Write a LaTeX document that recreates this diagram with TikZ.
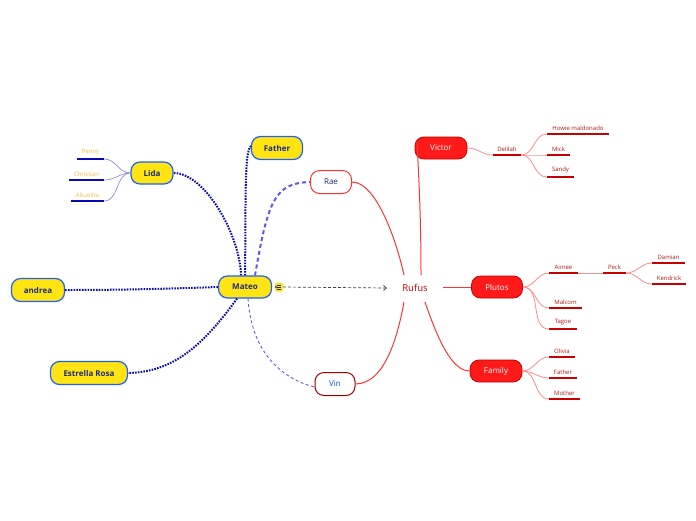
\documentclass[tikz,border=0pt]{standalone}
\usepackage{fontspec}
\setmainfont{Open Sans}
\usetikzlibrary{arrows.meta}
\definecolor{redfill}{HTML}{FF1A1A}
\definecolor{redline}{HTML}{C80000}
\definecolor{redlink}{HTML}{FF3333}
\definecolor{redleaf}{HTML}{FF8C8C}
\definecolor{redtext}{HTML}{B01818}
\definecolor{yelfill}{HTML}{FFE414}
\definecolor{bluebd}{HTML}{1F5FFF}
\definecolor{navy}{HTML}{1E2A78}
\definecolor{dotblue}{HTML}{0A0AB4}
\definecolor{dashblue}{HTML}{5A5AF0}
\definecolor{lightblue}{HTML}{8C8CE6}
\definecolor{orangetext}{HTML}{F2B94A}
\tikzset{
  x=1pt,y=-1pt,
  redbox/.style={draw=redline,fill=redfill,line width=0.8pt,rounded corners=9pt,minimum height=22pt,text=white,font=\fontsize{8}{9}\selectfont,inner xsep=0pt},
  yelbox/.style={draw=bluebd,fill=yelfill,line width=1.2pt,rounded corners=9pt,minimum height=22pt,text=navy,font=\fontsize{8}{9}\selectfont\bfseries,inner xsep=0pt},
  whitebox/.style={fill=white,line width=1pt,rounded corners=9pt,minimum height=23pt,font=\fontsize{8}{9}\selectfont,inner xsep=0pt},
  rleaf/.style={text=redtext,font=\fontsize{6}{7}\selectfont,inner xsep=0pt,inner ysep=3.5pt,anchor=south},
  bleaf/.style={text=orangetext,font=\fontsize{6}{7}\selectfont,inner xsep=0pt,inner ysep=3.5pt,anchor=south},
  rul/.style={draw=redline,line width=1.3pt},
  bul/.style={draw=dotblue,line width=1.3pt},
  rlink/.style={draw=redlink,line width=1pt},
  rleafl/.style={draw=redleaf,line width=0.8pt},
  bleafl/.style={draw=lightblue,line width=0.7pt},
  dotl/.style={draw=dotblue,line width=2pt,dash pattern=on 1.6pt off 1.2pt},
  dashl/.style={draw=dashblue,line width=2pt,dash pattern=on 4pt off 3pt},
  thindash/.style={draw=dashblue,line width=0.9pt,dash pattern=on 3pt off 2.5pt},
}
\begin{document}
\begin{tikzpicture}
\useasboundingbox (0,0) rectangle (696,520);
% main nodes
\node[redbox,minimum width=52pt] (victor) at (441,148) {Victor};
\node[redbox,minimum width=51pt] (plutos) at (497,287) {Plutos};
\node[redbox,minimum width=52pt] (family) at (496,371) {Family};
\node[text=redline,font=\fontsize{9.5}{10}\selectfont,inner sep=1pt] (rufus) at (415,288) {Rufus};
\coordinate (rA) at (404,275);
\coordinate (rB) at (421,275);
\coordinate (rC) at (443,287);
\coordinate (rD) at (404,302);
\coordinate (rE) at (425,302);
\node[yelbox,minimum width=53pt] (mateo) at (245,287) {Mateo};
\node[yelbox,minimum width=51pt,minimum height=23pt] (father) at (277,148) {Father};
\node[yelbox,minimum width=42pt,minimum height=22pt] (lida) at (152,173) {Lida};
\node[yelbox,minimum width=53pt,minimum height=23pt] (andrea) at (38,290) {andrea};
\node[yelbox,minimum width=77pt,minimum height=23pt] (estrella) at (89,373) {Estrella Rosa};
\node[whitebox,draw=redlink,text=navy,minimum width=41pt] (rae) at (331,182) {Rae};
\node[whitebox,draw=redline!80!black,text=blue!60!cyan!80!black,minimum width=40pt] (vin) at (335,384) {Vin};
% note icon
\node[fill=yelfill,rounded corners=1.5pt,minimum width=8pt,minimum height=9pt,inner sep=0pt] (note) at (279,287) {};
\draw[navy,line width=0.6pt] ([xshift=-2pt,yshift=-2pt]note.center) -- ([xshift=2pt,yshift=-2pt]note.center)
  ([xshift=-2pt]note.center) -- ([xshift=2pt]note.center)
  ([xshift=-2pt,yshift=2pt]note.center) -- ([xshift=2pt,yshift=2pt]note.center);
\fill[black!80] (note.west) -- ++(1.8,-1.5) -- ++(0,3) -- cycle;
\coordinate (arrend) at (387,288);
\draw[black!75,line width=0.7pt,dash pattern=on 3pt off 2pt,-{Straight Barb[length=3pt,width=5pt]}] (note.east) -- (arrend);
% Mateo links
\draw[dotl] ([xshift=-4pt]mateo.north) .. controls (240,235) and (205,173) .. (lida.east);
\draw[dotl] (mateo.north) .. controls (246,210) and (244,150) .. ([yshift=2pt]father.west);
\draw[dashl] ([xshift=10pt]mateo.north) .. controls (268,200) and (275,183) .. (rae.west);
\draw[dotl] (mateo.west) .. controls (160,289) and (120,290) .. (andrea.east);
\draw[dotl] ([xshift=-8pt]mateo.south) .. controls (200,350) and (170,372) .. (estrella.east);
\draw[thindash] ([xshift=3pt]mateo.south) .. controls (252,360) and (290,381) .. ([yshift=-3pt]vin.west);
% Rufus links
\draw[rlink] (rae.east) .. controls (375,182) and (395,235) .. (rA);
\draw[rlink] (vin.east) .. controls (385,384) and (398,335) .. (rD);
\draw[rlink] (rB) .. controls (421,220) and (419,180) .. ([xshift=-24pt,yshift=6pt]victor.center);
\draw[rlink] (rC) -- (plutos.west);
\draw[rlink] (rE) .. controls (438,340) and (452,371) .. (family.west);
% Victor children
\node[rleaf,minimum width=28pt] (delilah) at (507,155) {Delilah};
\node[rleaf,minimum width=62pt] (howie) at (578,134) {Howie maldonado};
\node[rleaf,minimum width=23pt] (mick) at (558.5,155) {Mick};
\node[rleaf,minimum width=27pt] (sandy) at (560.5,177) {Sandy};
% Plutos children
\node[rleaf,minimum width=29pt] (aimee) at (563.5,273) {Aimee};
\node[rleaf,minimum width=23pt] (peck) at (614.5,273) {Peck};
\node[rleaf,minimum width=33pt] (damian) at (668.5,263) {Damian};
\node[rleaf,minimum width=34pt] (kendrick) at (669,284) {Kendrick};
\node[rleaf,minimum width=33pt] (malcom) at (565.5,308) {Malcom};
\node[rleaf,minimum width=28pt] (tagoe) at (563,329) {Tagoe};
% Family children
\node[rleaf,minimum width=26pt] (olivia) at (562,357) {Olivia};
\node[rleaf,minimum width=28pt] (rfather) at (563,378) {Father};
\node[rleaf,minimum width=31pt] (mother) at (564.5,399) {Mother};
% Lida children
\node[bleaf,minimum width=27pt] (penny) at (90.5,159) {Penny};
\node[bleaf,minimum width=35pt] (christian) at (86.5,180) {Christian};
\node[bleaf,minimum width=33pt] (abuelita) at (87.5,201) {Abuelita};
% underlines
\foreach \n in {delilah,howie,mick,sandy,aimee,peck,damian,kendrick,malcom,tagoe,olivia,rfather,mother}
  \draw[rul] (\n.south west) -- (\n.south east);
\foreach \n in {penny,christian,abuelita}
  \draw[bul] (\n.south west) -- (\n.south east);
% leaf links
\draw[rleafl] (victor.east) to[out=0,in=180] (delilah.south west);
\foreach \n in {howie,mick,sandy}
  \draw[rleafl] (delilah.south east) to[out=0,in=180] (\n.south west);
\foreach \n in {aimee,malcom,tagoe}
  \draw[rleafl] (plutos.east) to[out=0,in=180] (\n.south west);
\draw[rleafl] (aimee.south east) -- (peck.south west);
\foreach \n in {damian,kendrick}
  \draw[rleafl] (peck.south east) to[out=0,in=180] (\n.south west);
\foreach \n in {olivia,rfather,mother}
  \draw[rleafl] (family.east) to[out=0,in=180] (\n.south west);
\foreach \n in {penny,christian,abuelita}
  \draw[bleafl] (lida.west) to[out=180,in=0] (\n.south east);
\end{tikzpicture}
\end{document}
